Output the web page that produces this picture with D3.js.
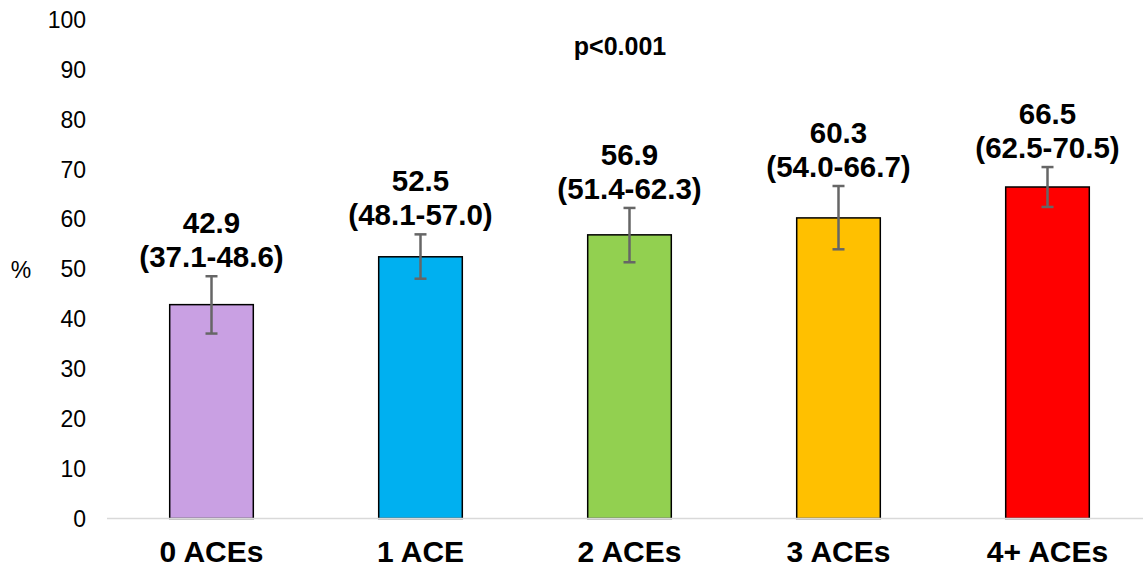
<!DOCTYPE html>
<meta charset="utf-8">
<script src="https://d3js.org/d3.v7.min.js"></script>
<style>
  body { margin: 0; background: #fff; }
  text { font-family: Arial, "Liberation Sans", sans-serif; }
</style>
<div id="chart"></div>
<script>
// data
var groups = ["0 ACEs", "1 ACE", "2 ACEs", "3 ACEs", "4+ ACEs"];
var values = [42.9, 52.5, 56.9, 60.3, 66.5];
var lower  = [37.1, 48.1, 51.4, 54.0, 62.5];
var upper  = [48.6, 57.0, 62.3, 66.7, 70.5];
var colors = ["#C9A0E3", "#00B0F0", "#92D050", "#FFC000", "#FF0000"];
var yTicks = [0, 10, 20, 30, 40, 50, 60, 70, 80, 90, 100];

var width = 1143, height = 570;

var svg = d3.select("#chart").append("svg")
    .attr("width", width)
    .attr("height", height);

var x = d3.scaleBand()
    .domain(groups)
    .range([107, 1152])
    .paddingInner(0.6)
    .paddingOuter(0.3);

var y = d3.scaleLinear()
    .domain([0, 100])
    .range([518.5, 20]);

// y tick labels
svg.append("g").selectAll("text")
    .data(yTicks)
    .enter().append("text")
    .attr("x", 86)
    .attr("y", function(d) { return y(d); })
    .attr("dy", "0.35em")
    .attr("text-anchor", "end")
    .style("font-size", "23px")
    .style("fill", "#000")
    .text(function(d) { return d; });

// % label
svg.append("text")
    .attr("x", 21)
    .attr("y", 270)
    .attr("dy", "0.35em")
    .attr("text-anchor", "middle")
    .style("font-size", "23px")
    .text("%");

// bars
var idx = d3.range(groups.length);
svg.append("g").selectAll("rect")
    .data(idx)
    .enter().append("rect")
    .attr("x", function(i) { return x(groups[i]); })
    .attr("y", function(i) { return y(values[i]); })
    .attr("width", x.bandwidth())
    .attr("height", function(i) { return y(0) - y(values[i]); })
    .style("fill", function(i) { return colors[i]; })
    .style("stroke", "#000")
    .style("stroke-width", 1.5);

// x axis line
svg.append("line")
    .attr("x1", 107).attr("x2", 1152)
    .attr("y1", y(0)).attr("y2", y(0))
    .style("stroke", "#d9d9d9")
    .style("stroke-width", 1.5);

// error bars
var eb = svg.append("g").selectAll("g")
    .data(idx)
    .enter().append("g")
    .style("stroke", "#666")
    .style("stroke-width", 2.5);
function cx(i) { return x(groups[i]) + x.bandwidth() / 2; }
eb.append("line")
    .attr("x1", cx).attr("x2", cx)
    .attr("y1", function(i) { return y(lower[i]); })
    .attr("y2", function(i) { return y(upper[i]); });
eb.append("line")
    .attr("x1", function(i) { return cx(i) - 6; })
    .attr("x2", function(i) { return cx(i) + 6; })
    .attr("y1", function(i) { return y(lower[i]); })
    .attr("y2", function(i) { return y(lower[i]); });
eb.append("line")
    .attr("x1", function(i) { return cx(i) - 6; })
    .attr("x2", function(i) { return cx(i) + 6; })
    .attr("y1", function(i) { return y(upper[i]); })
    .attr("y2", function(i) { return y(upper[i]); });

// value labels
var lab = svg.append("g").selectAll("g")
    .data(idx)
    .enter().append("g");
lab.append("text")
    .attr("x", cx)
    .attr("y", function(i) { return y(upper[i]) - 43; })
    .attr("text-anchor", "middle")
    .style("font-size", "29.5px")
    .style("font-weight", "bold")
    .text(function(i) { return values[i].toFixed(1); });
lab.append("text")
    .attr("x", cx)
    .attr("y", function(i) { return y(upper[i]) - 9; })
    .attr("text-anchor", "middle")
    .style("font-size", "29.5px")
    .style("font-weight", "bold")
    .text(function(i) { return "(" + lower[i].toFixed(1) + "-" + upper[i].toFixed(1) + ")"; });

// category labels
svg.append("g").selectAll("text")
    .data(groups)
    .enter().append("text")
    .attr("x", function(d) { return x(d) + x.bandwidth() / 2; })
    .attr("y", 562)
    .attr("text-anchor", "middle")
    .style("font-size", "30px")
    .style("font-weight", "bold")
    .text(function(d) { return d; });

// p value
svg.append("text")
    .attr("x", 620)
    .attr("y", 55)
    .attr("text-anchor", "middle")
    .style("font-size", "25px")
    .style("font-weight", "bold")
    .text("p<0.001");
</script>
